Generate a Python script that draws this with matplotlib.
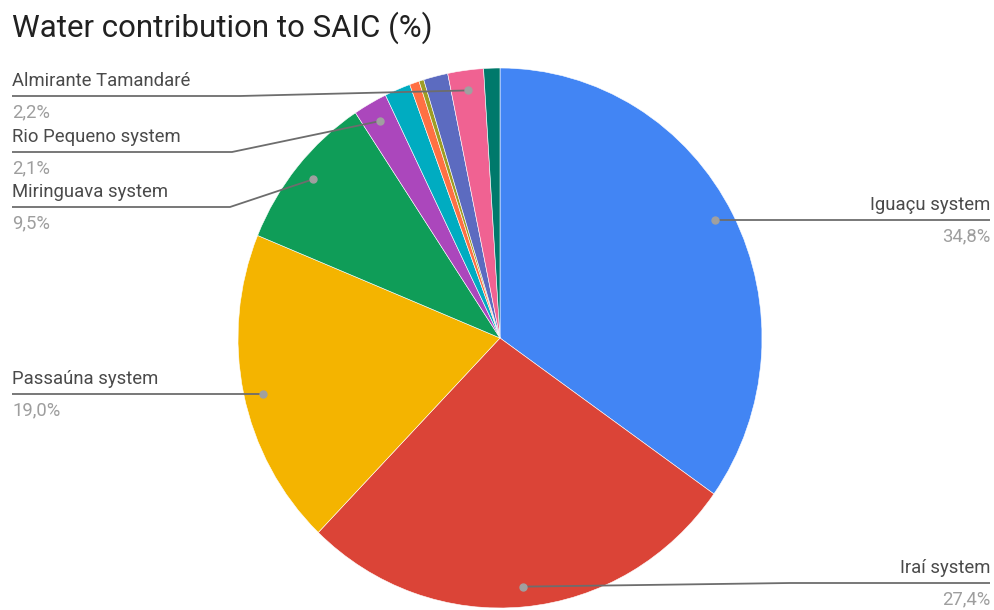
import numpy as np
import matplotlib
matplotlib.use("Agg")
import matplotlib.pyplot as plt

plt.rcParams['font.family'] = ['Roboto', 'DejaVu Sans']

# slices, clockwise from 12 o'clock
systems = ["Iguaçu system", "Iraí system", "Passaúna system", "Miringuava system",
           "Rio Pequeno system", "Other 1", "Other 2", "Other 3", "Other 4",
           "Almirante Tamandaré", "Other 5"]
shares = [34.8, 27.4, 19.0, 9.5, 2.1, 1.6, 0.6, 0.3, 1.5, 2.2, 1.0]
colors = ["#4285F4", "#DB4437", "#F4B400", "#0F9D58", "#AB47BC", "#00ACC1",
          "#FF7043", "#9E9D24", "#5C6BC0", "#F06292", "#00796B"]
labelled = ["Iguaçu system", "Iraí system", "Passaúna system", "Miringuava system",
            "Rio Pequeno system", "Almirante Tamandaré"]

W, H = 994, 610
k = 270 / 262  # the pie is a little taller than wide
fig = plt.figure(figsize=(W / 100, H / 100), dpi=100)
ax = fig.add_axes([0, 0, 1, 1])


def fx(px):
    return px * k


cx, cy, R = fx(500), H - 338, 270
wedges, _ = ax.pie(shares, colors=colors, startangle=90, counterclock=False,
                   center=(cx, cy), radius=R, frame=True,
                   wedgeprops=dict(edgecolor='white', linewidth=0.4))
ax.set_aspect('auto')
ax.set_xlim(0, fx(W))
ax.set_ylim(0, H)
ax.axis('off')

fig.text(12 / W, 1 - 28 / H, "Water contribution to SAIC (%)", fontsize=22.5,
         color='#212121', va='center', ha='left')

# label layout: (underline y in px from top, side, elbow x)
layout = {
    "Almirante Tamandaré": (96, 'left', 240),
    "Rio Pequeno system": (152, 'left', 232),
    "Miringuava system": (207, 'left', 230),
    "Passaúna system": (394, 'left', None),
    "Iguaçu system": (220, 'right', None),
    "Iraí system": (583, 'right', 790),
}

for w, name, v in zip(wedges, systems, shares):
    if name not in labelled:
        continue
    mid = np.deg2rad((w.theta1 + w.theta2) / 2)
    dx, dy = cx + 0.925 * R * np.cos(mid), cy + 0.925 * R * np.sin(mid)
    ly, side, elbow = layout[name]
    ly = H - ly
    end = fx(12) if side == 'left' else fx(990)
    xs = [dx] + ([fx(elbow)] if elbow else []) + [end]
    ys = [dy] + ([ly] if elbow else []) + [ly]
    if not elbow:
        ys[0] = ly
    ax.plot(xs, ys, color='#6d6d6d', lw=1.3, solid_capstyle='butt', zorder=3)
    ax.plot(dx, ys[0], 'o', ms=5, color='#a0a0a0', zorder=4)
    ha = 'left' if side == 'left' else 'right'
    ax.text(end, ly + 15, name, ha=ha, va='center', fontsize=13.3, color='#4a4a4a')
    ax.text(end, ly - 16, f"{v:.1f}".replace('.', ',') + '%', ha=ha, va='center',
            fontsize=13.3, color='#9e9e9e')

fig.savefig("out.png", dpi=100, facecolor='white')
